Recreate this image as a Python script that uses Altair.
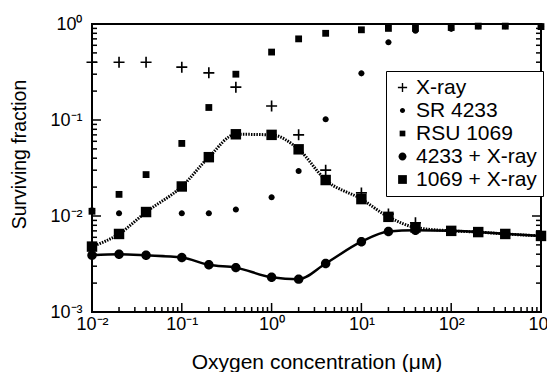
import altair as alt
import pandas as pd

# ---------------- data ----------------
series_names = ["X-ray", "SR 4233", "RSU 1069", "4233 + X-ray", "1069 + X-ray"]

oxygen = [0.01, 0.02, 0.04, 0.1, 0.2, 0.4, 1, 2, 4, 10, 20, 40, 100, 200, 400, 1000]

xray_oxygen = [0.01, 0.02, 0.04, 0.1, 0.2, 0.4, 1, 2, 4, 10, 20, 40]
xray_frac = [0.40, 0.40, 0.40, 0.355, 0.31, 0.22, 0.14, 0.07, 0.030, 0.0174, 0.0105, 0.0085]

sr4233_frac = [0.0115, 0.0107, 0.0107, 0.0107, 0.0107, 0.0117, 0.0157, 0.0294, 0.102,
               0.306, 0.645, 0.85, 0.89, 0.95, 0.95, 0.95]
rsu1069_frac = [0.0112, 0.0168, 0.027, 0.057, 0.135, 0.30, 0.51, 0.70, 0.80,
                0.87, 0.90, 0.90, 0.92, 0.95, 0.95, 0.94]
combo4233_frac = [0.0039, 0.0040, 0.0039, 0.0037, 0.0031, 0.0029, 0.0023, 0.0022, 0.0032,
                  0.0054, 0.0069, 0.0071, 0.0070, 0.0068, 0.0065, 0.0062]
combo1069_frac = [0.0048, 0.0065, 0.011, 0.0203, 0.041, 0.071, 0.070, 0.0495, 0.0237,
                  0.015, 0.0098, 0.0076, 0.0070, 0.0068, 0.0065, 0.0062]

x_major = [0.01, 0.1, 1, 10, 100, 1000]
y_major = [0.001, 0.01, 0.1, 1]

# ---------------- build table ----------------
rows = []
for name, xs_, ys_ in [
    ("X-ray", xray_oxygen, xray_frac),
    ("SR 4233", oxygen, sr4233_frac),
    ("RSU 1069", oxygen, rsu1069_frac),
    ("4233 + X-ray", oxygen, combo4233_frac),
    ("1069 + X-ray", oxygen, combo1069_frac),
]:
    for xv, yv in zip(xs_, ys_):
        rows.append({"oxygen": xv, "frac": yv, "series": name})
df = pd.DataFrame(rows)

x_minor = [m * 10.0 ** k for k in range(-2, 3) for m in range(2, 10)]
y_minor = [m * 10.0 ** k for k in range(-3, 0) for m in range(2, 10)]

# ---------------- symbols ----------------
def circle(r):
    return f"M{-r},0A{r},{r} 0 1,0 {r},0A{r},{r} 0 1,0 {-r},0Z"

def square(h):
    return f"M{-h},{-h}H{h}V{h}H{-h}Z"

PLUS = "M-1,-0.15H1V0.15H-1Z M-0.15,-1H0.15V1H-0.15Z"
shape_range = [PLUS, circle(0.55), square(0.62), circle(0.86), square(0.95)]

W, H = 449, 288
MINOR, MAJOR = 5, 9

xs = alt.Scale(type="log", domain=[0.01, 1000], nice=False)
ys = alt.Scale(type="log", domain=[0.001, 1], nice=False)

sup_expr = ("'10' + replace(replace(replace(replace(replace('' + round(log(datum.value)/LN10),"
            " '-', '⁻'), '0', '⁰'), '1', '¹'), '2', '²'), '3', '³')")

# one identical axis definition shared by every layer
x_axis = alt.Axis(orient="bottom", values=x_major, labelExpr=sup_expr,
                  ticks=False, domain=False, grid=False, labelPadding=3,
                  labelFlush=False, labelFontSize=18, labelColor="black",
                  title="Oxygen concentration (μᴍ)", titleFontSize=21,
                  titleFontWeight="normal", titleColor="black", titlePadding=18)
y_axis = alt.Axis(orient="left", values=y_major, labelExpr=sup_expr,
                  ticks=False, domain=False, grid=False, labelPadding=10,
                  labelFlush=False, labelFontSize=18, labelColor="black",
                  title="Surviving fraction", titleFontSize=19.5, titleY=130,
                  titleFontWeight="normal", titleColor="black", titlePadding=20)

base = alt.Chart(df)

# inward tick marks (positions come from the shared log scales)
def x_ticks_layer(values, length):
    return alt.Chart(pd.DataFrame({"v": values})).mark_rule(
        color="black", strokeWidth=1.5
    ).encode(
        x=alt.X("v:Q", scale=xs, axis=x_axis),
        y=alt.value(H), y2=alt.value(H - length),
    )

def y_ticks_layer(values, length, side):
    x0 = 0 if side == "left" else W
    x1 = length if side == "left" else W - length
    return alt.Chart(pd.DataFrame({"v": values})).mark_rule(
        color="black", strokeWidth=1.5
    ).encode(
        y=alt.Y("v:Q", scale=ys, axis=y_axis),
        x=alt.value(x0), x2=alt.value(x1),
    )

tick_layers = [
    x_ticks_layer(x_minor, MINOR), x_ticks_layer(x_major, MAJOR),
    y_ticks_layer(y_minor, MINOR, "left"), y_ticks_layer(y_major, MAJOR, "left"),
    y_ticks_layer(y_minor, MINOR, "right"), y_ticks_layer(y_major, MAJOR, "right"),
]

line4233 = base.transform_filter(alt.datum.series == "4233 + X-ray").mark_line(
    color="black", strokeWidth=2.5, interpolate="monotone"
).encode(
    x=alt.X("oxygen:Q", scale=xs, axis=x_axis),
    y=alt.Y("frac:Q", scale=ys, axis=y_axis),
)

line1069 = base.transform_filter(alt.datum.series == "1069 + X-ray").mark_line(
    color="black", strokeWidth=3, strokeDash=[1.5, 1.2], interpolate="monotone"
).encode(
    x=alt.X("oxygen:Q", scale=xs, axis=x_axis),
    y=alt.Y("frac:Q", scale=ys, axis=y_axis),
)

points = base.mark_point(filled=True, size=121, opacity=1, color="black").encode(
    x=alt.X("oxygen:Q", scale=xs, axis=x_axis),
    y=alt.Y("frac:Q", scale=ys, axis=y_axis),
    shape=alt.Shape("series:N",
                    scale=alt.Scale(domain=series_names, range=shape_range),
                    legend=alt.Legend(title=None, orient="none", legendX=294, legendY=47,
                                      strokeColor="black", fillColor="white", padding=6,
                                      labelFontSize=21, labelColor="black", labelLimit=400,
                                      labelOffset=3, rowPadding=1, symbolSize=85,
                                      symbolFillColor="black", symbolStrokeWidth=0,
                                      cornerRadius=0)),
)

chart = alt.layer(*tick_layers, line4233, line1069, points).properties(
    width=W, height=H,
    autosize=alt.AutoSizeParams(type="none"),
    padding={"left": 84, "top": 16, "right": 6, "bottom": 60},
).configure(font="Liberation Sans").configure_view(stroke="black", strokeWidth=2)

chart.save("out.html", embed_options={"renderer": "svg", "actions": False})
